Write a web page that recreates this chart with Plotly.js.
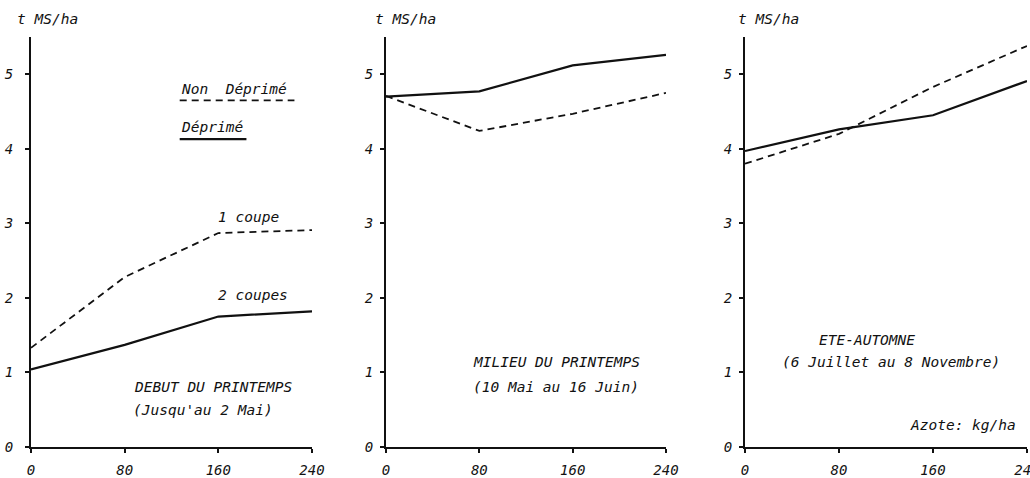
<!DOCTYPE html>
<html>
<head>
<meta charset="utf-8">
<script src="https://cdn.plot.ly/plotly-3.0.1.min.js"></script>
<style>html,body{margin:0;padding:0;background:#fff;}#chart{width:1030px;height:478px;}</style>
</head>
<body>
<div id="chart"></div>
<script>
// Nitrogen dose (kg/ha)
const nitrogen = [0, 80, 160, 240];
const xTickLabels = ["0", "80", "160", "240"];
const yTicks = [0, 1, 2, 3, 4, 5];

// Panel 1 : Début du printemps
const p1NonDeprime = [1.33, 2.28, 2.87, 2.91];
const p1Deprime = [1.04, 1.37, 1.75, 1.82];
// Panel 2 : Milieu du printemps
const p2NonDeprime = [4.71, 4.24, 4.47, 4.75];
const p2Deprime = [4.70, 4.77, 5.12, 5.26];
// Panel 3 : Eté-automne
const p3NonDeprime = [3.80, 4.20, 4.83, 5.38];
const p3Deprime = [3.97, 4.26, 4.45, 4.91];

const ink = "#111";
const FONT = {family: "DejaVu Sans Mono", size: 14.5, color: ink, style: "italic"};
const TICKFONT = {family: "DejaVu Sans Mono", size: 14, color: ink, style: "italic"};

function tr(y, xa, ya, dashed) {
  return {
    x: nitrogen, y: y, xaxis: xa, yaxis: ya, type: "scatter", mode: "lines",
    line: {color: ink, width: dashed ? 1.8 : 2.2, dash: dashed ? "7px,5px" : "solid"},
    cliponaxis: false, showlegend: false, hoverinfo: "skip"
  };
}

const data = [
  tr(p1NonDeprime, "x", "y", true), tr(p1Deprime, "x", "y", false),
  tr(p2NonDeprime, "x2", "y2", true), tr(p2Deprime, "x2", "y2", false),
  tr(p3NonDeprime, "x3", "y3", true), tr(p3Deprime, "x3", "y3", false)
];

function xax(dom, anchor) {
  return {
    domain: dom, anchor: anchor, range: [0, 240], tickvals: nitrogen, ticktext: xTickLabels,
    showline: true, linecolor: ink, linewidth: 2, ticks: "outside", ticklen: 4, tickwidth: 2,
    tickcolor: ink, showgrid: false, zeroline: false, tickfont: TICKFONT, ticklabelstandoff: 5,
    ticklabeloverflow: "allow", fixedrange: true
  };
}
function yax(anchor, standoff) {
  return {
    domain: [0, 1], anchor: anchor, range: [0, 5.5], tickvals: yTicks,
    showline: true, linecolor: ink, linewidth: 2, ticks: "outside", ticklen: 4, tickwidth: 2,
    tickcolor: ink, showgrid: false, zeroline: false, tickfont: TICKFONT, ticklabelstandoff: standoff,
    fixedrange: true
  };
}

function ann(text, x, y, xr, yr, extra) {
  return Object.assign({text: text, x: x, y: y, xref: xr, yref: yr, xanchor: "left", yanchor: "middle",
    showarrow: false, font: FONT}, extra || {});
}

const annotations = [
  ann("t MS/ha", 15/1030, 1.043, "paper", "paper"),
  ann("Non  Déprimé", 126, 4.80, "x", "y"),
  ann("Déprimé", 126, 4.29, "x", "y"),
  ann("1 coupe", 158, 3.09, "x", "y"),
  ann("2 coupes", 158, 2.04, "x", "y"),
  ann("DEBUT DU PRINTEMPS", 86, 0.80, "x", "y"),
  ann("(Jusqu'au 2 Mai)", 85, 0.50, "x", "y"),

  ann("t MS/ha", 373/1030, 1.043, "paper", "paper"),
  ann("MILIEU DU PRINTEMPS", 73, 1.14, "x2", "y2"),
  ann("(10 Mai au 16 Juin)", 73, 0.80, "x2", "y2"),

  ann("t MS/ha", 736/1030, 1.043, "paper", "paper"),
  ann("ETE-AUTOMNE", 61, 1.44, "x3", "y3"),
  ann("(6 Juillet au 8 Novembre)", 30, 1.14, "x3", "y3"),
  ann("Azote: kg/ha", 139, 0.30, "x3", "y3")
];

const shapes = [
  {type: "line", xref: "x", yref: "y", x0: 127, x1: 225, y0: 4.65, y1: 4.65,
   line: {color: ink, width: 1.8, dash: "7px,5px"}},
  {type: "line", xref: "x", yref: "y", x0: 127, x1: 184, y0: 4.13, y1: 4.13,
   line: {color: ink, width: 2.2}}
];

const layout = {
  width: 1030, height: 478,
  margin: {l: 0, r: 0, t: 37, b: 31},
  paper_bgcolor: "#fff", plot_bgcolor: "#fff",
  font: FONT,
  xaxis: xax([31/1030, 312/1030], "y"),
  yaxis: yax("x", 9),
  xaxis2: xax([386/1030, 666/1030], "y2"),
  yaxis2: yax("x2", 4),
  xaxis3: xax([745/1030, 1027/1030], "y3"),
  yaxis3: yax("x3", 4),
  annotations: annotations,
  shapes: shapes
};

Plotly.newPlot("chart", data, layout, {staticPlot: true, displayModeBar: false});
</script>
</body>
</html>
